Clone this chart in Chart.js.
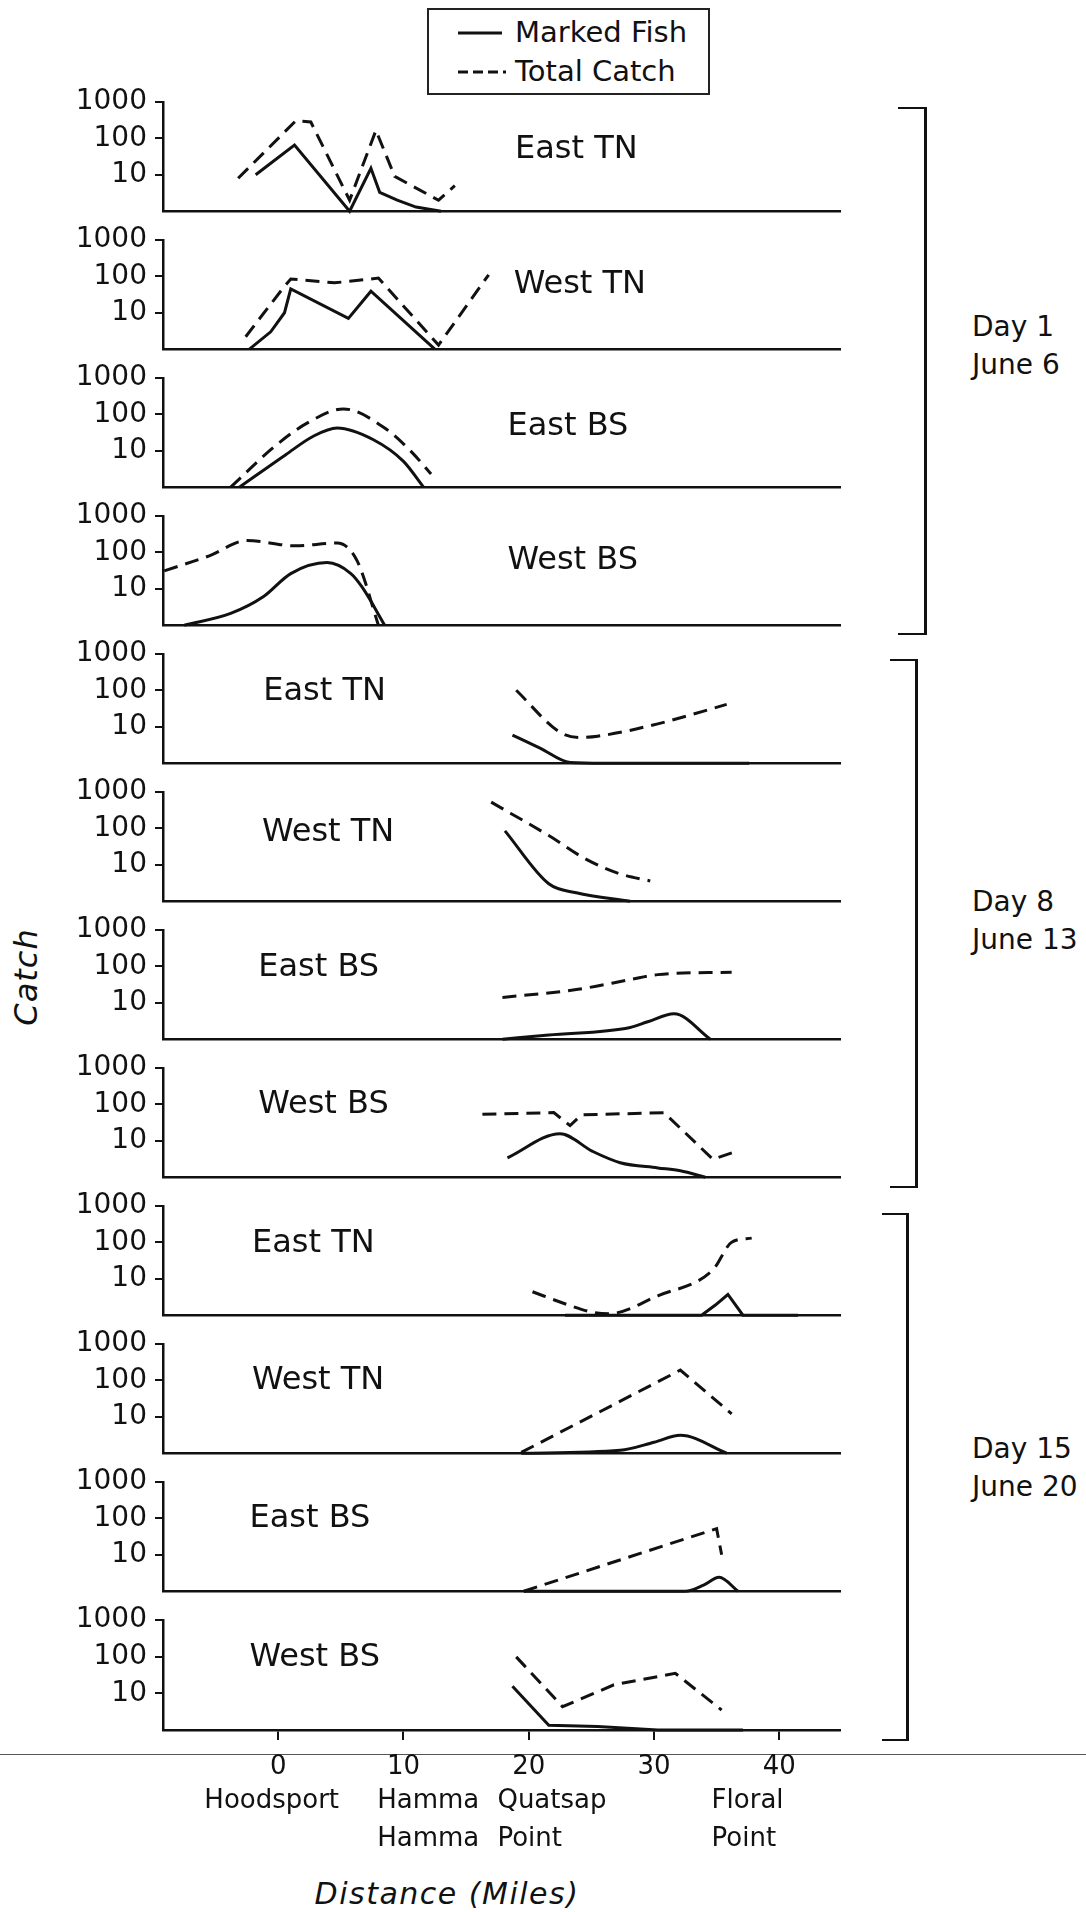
<!DOCTYPE html>
<html>
<head>
<meta charset="utf-8">
<title>Catch by distance</title>
<script src="https://cdn.jsdelivr.net/npm/chart.js@4.4.1/dist/chart.umd.min.js"></script>
<style>
    html, body { margin: 0; padding: 0; background: #fff; }
    body {
        width: 1086px; height: 1912px; position: relative; overflow: hidden;
        font-family: "DejaVu Sans", "Noto Sans", sans-serif; color: #111;
    }
    .panel { position: absolute; left: 0; }
    .legend {
        position: absolute; left: 427px; top: 8px; width: 279px; height: 83px;
        border: 2px solid #222;
    }
    .legend-row { position: absolute; left: 0; height: 30px; width: 100%; }
    .legend-row svg { position: absolute; left: 29px; top: 13px; }
    .legend-row span { position: absolute; left: 86px; top: 0; font-size: 29px; line-height: 30px; white-space: nowrap; }
    .bracket {
        position: absolute; border-top: 2.5px solid #111; border-right: 3px solid #111;
        border-bottom: 2.5px solid #111;
    }
    .day { position: absolute; left: 972px; font-size: 28px; line-height: 32px; white-space: nowrap; }
    .y-title {
        position: absolute; left: 26px; top: 977px; font-size: 32px; font-style: italic;
        transform: translate(-50%, -50%) rotate(-90deg); white-space: nowrap; letter-spacing: 1px;
    }
    .x-title {
        position: absolute; left: 447px; top: 1893px; font-size: 30px; font-style: italic;
        transform: translate(-50%, -50%); white-space: nowrap; letter-spacing: 1.5px;
    }
    .rule { position: absolute; left: 0; top: 1754px; width: 1086px; height: 1px; background: #555; }
</style>
</head>
<body>

<div class="legend">
    <div class="legend-row" style="top: 7px;">
        <svg width="46" height="6"><line x1="0" y1="3" x2="44" y2="3" stroke="#111" stroke-width="3"/></svg>
        <span>Marked Fish</span>
    </div>
    <div class="legend-row" style="top: 46px;">
        <svg width="48" height="6"><line x1="0" y1="3" x2="48" y2="3" stroke="#111" stroke-width="3" stroke-dasharray="10 5"/></svg>
        <span>Total Catch</span>
    </div>
</div>

<div class="bracket" style="left: 898px; top: 107px; width: 26px; height: 524px;"></div>
<div class="bracket" style="left: 890px; top: 659px; width: 25px; height: 525px;"></div>
<div class="bracket" style="left: 882px; top: 1213px; width: 24px; height: 524px;"></div>

<div class="y-title">Catch</div>
<div class="x-title">Distance (Miles)</div>
<div class="rule"></div>

<script>
// Panel names, top to bottom
const panelLabels = ['East TN', 'West TN', 'East BS', 'West BS',
                     'East TN', 'West TN', 'East BS', 'West BS',
                     'East TN', 'West TN', 'East BS', 'West BS'];

// Where each panel name sits, in miles and catch
const panelLabelMiles = [18.9, 18.8, 18.3, 18.3, -1.2, -1.3, -1.6, -1.6, -2.1, -2.1, -2.3, -2.3];
const panelLabelValues = [49, 60, 46, 59, 92, 78, 92, 100, 89, 95, 100, 93];

// Bracket captions
const dayLabels = [['Day 1', 'June 6'], ['Day 8', 'June 13'], ['Day 15', 'June 20']];

// Axis ticks
const xTickValues = [0, 10, 20, 30, 40];
const yTickValues = [10, 100, 1000];

// Place names under the distance axis (left edge, miles)
const placeNames = [['Hoodsport'], ['Hamma', 'Hamma'], ['Quatsap', 'Point'], ['Floral', 'Point']];
const placeMiles = [-5.9, 7.9, 17.5, 34.6];

// Day 1 - June 6  [miles, catch]
const d1EastTnMarked = [[-1.8, 10], [1.3, 65], [5.7, 1], [7.4, 15], [8.1, 3.3], [9.5, 2], [11, 1.3], [13, 1]];
const d1EastTnTotal = [[-3.2, 8], [1.4, 300], [2.6, 280], [5.7, 2], [7.8, 165], [9.3, 9], [12.8, 2], [14.1, 5]];
const d1WestTnMarked = [[-2.3, 1], [-0.6, 3], [0.5, 10], [1.0, 45], [5.6, 7], [7.4, 39], [12.5, 1]];
const d1WestTnTotal = [[-2.6, 2.2], [0.4, 48], [1.0, 84], [4.5, 66], [8.0, 89], [12.8, 1.3], [16.8, 110]];
const d1EastBsMarked = [[-3.1, 1], [0.6, 7.8], [2.8, 25], [4.7, 42], [7.6, 20], [10.0, 5.1], [11.6, 1]];
const d1EastBsTotal = [[-3.8, 1], [-0.3, 13], [2.3, 57], [5.2, 140], [8.5, 42], [10.6, 9.6], [12.2, 2.3]];
const d1WestBsMarked = [[-7.5, 1], [-3.8, 2.1], [-1.2, 6], [1.0, 26], [3.9, 52], [5.8, 26], [6.7, 11], [8.5, 1]];
const d1WestBsTotal = [[-9.1, 31], [-5.5, 80], [-2.5, 210], [1.4, 150], [4.7, 180], [6.3, 58], [8.0, 1]];

// Day 8 - June 13
const d8EastTnMarked = [[18.7, 5.9], [20.9, 2.6], [23.3, 1.05], [26, 1], [37.6, 1]];
const d8EastTnTotal = [[19.0, 100], [22.5, 7], [24.0, 5.1], [25.5, 5.5], [30.3, 12], [35.8, 41]];
const d8WestTnMarked = [[18.1, 85], [21.6, 3], [23.8, 1.7], [28.1, 1]];
const d8WestTnTotal = [[17.0, 520], [21.6, 63], [24.6, 14], [27.3, 5.6], [29.7, 3.6]];
const d8EastBsMarked = [[17.9, 1], [21.6, 1.3], [28.1, 2.1], [29.5, 3], [31.6, 5], [34.5, 1]];
const d8EastBsTotal = [[17.9, 14], [23.8, 23], [28.1, 43], [30.3, 59], [36.2, 69]];
const d8WestBsMarked = [[18.3, 3.4], [22.5, 15.6], [25.1, 5.1], [27.3, 2.5], [30.3, 1.8], [32.1, 1.5], [34.1, 1]];
const d8WestBsTotal = [[16.3, 53], [22.0, 59], [23.3, 26], [24.2, 51], [30.8, 59], [34.7, 3.1], [36.7, 5.3]];

// Day 15 - June 20
const d15EastTnMarked = [[22.9, 1], [33.8, 1], [34.9, 1.9], [35.9, 3.7], [37.1, 1], [41.5, 1]];
const d15EastTnTotal = [[20.3, 4.4], [23, 2], [25.1, 1.2], [26.4, 1.1], [30.3, 3.4], [34.7, 17.5], [36.2, 100], [37.8, 130]];
const d15WestTnMarked = [[19.4, 1], [27.3, 1.2], [30, 2], [32.1, 3.1], [35.8, 1]];
const d15WestTnTotal = [[19.4, 1.05], [32.1, 190], [36.2, 12]];
const d15EastBsMarked = [[19.6, 1], [32.5, 1], [34, 1.5], [35.2, 2.4], [36.7, 1]];
const d15EastBsTotal = [[19.6, 1], [35.0, 52], [35.4, 10]];
const d15WestBsMarked = [[18.7, 15.6], [21.6, 1.35], [25.5, 1.25], [30.3, 1], [37.1, 1]];
const d15WestBsTotal = [[19.0, 98], [22.7, 4.3], [26.8, 17], [31.7, 35], [35.4, 3.5]];

const panelMarked = [d1EastTnMarked, d1WestTnMarked, d1EastBsMarked, d1WestBsMarked,
                     d8EastTnMarked, d8WestTnMarked, d8EastBsMarked, d8WestBsMarked,
                     d15EastTnMarked, d15WestTnMarked, d15EastBsMarked, d15WestBsMarked];
const panelTotal = [d1EastTnTotal, d1WestTnTotal, d1EastBsTotal, d1WestBsTotal,
                    d8EastTnTotal, d8WestTnTotal, d8EastBsTotal, d8WestBsTotal,
                    d15EastTnTotal, d15WestTnTotal, d15EastBsTotal, d15WestBsTotal];

// Which curves are drawn smooth: [marked, total]
const smoothCurves = [[false, false], [false, false], [true, true], [true, true],
                      [true, true], [true, true], [true, true], [true, false],
                      [false, true], [true, false], [true, false], [false, false]];

// Layout
const FONT = '"DejaVu Sans", "Noto Sans", sans-serif';
const INK = '#111';
const PANEL_TOP = 101;
const PANEL_STEP = 138;
const PANEL_H = 111;
const PAD_TOP = 24;
const AXIS_LEFT = 163;
const AXIS_RIGHT = 840;
const CANVAS_W = 880;
const X_MIN = -9.2;
const X_MAX = 44.85;

// Bracket captions
const dayTops = [311, 886, 1433];
dayLabels.forEach((lines, i) => {
    lines.forEach((text, j) => {
        const el = document.createElement('div');
        el.className = 'day';
        el.style.top = (dayTops[i] + j * 38) + 'px';
        el.textContent = text;
        document.body.appendChild(el);
    });
});

function lineDataset(points, dashed, smooth) {
    return {
        data: points,
        borderColor: INK,
        borderWidth: 3,
        borderDash: dashed ? [14, 8] : [],
        pointRadius: 0,
        fill: false,
        clip: false,
        tension: smooth ? 0.4 : 0,
        cubicInterpolationMode: smooth ? 'monotone' : 'default'
    };
}

// Panel name text inside the plot
function panelTextPlugin(index) {
    return {
        id: 'panelText' + index,
        afterDatasetsDraw(chart) {
            const { ctx, scales } = chart;
            ctx.save();
            ctx.fillStyle = INK;
            ctx.font = '32px ' + FONT;
            ctx.textAlign = 'left';
            ctx.textBaseline = 'middle';
            ctx.fillText(panelLabels[index],
                scales.x.getPixelForValue(panelLabelMiles[index]),
                scales.y.getPixelForValue(panelLabelValues[index]));
            ctx.restore();
        }
    };
}

// Place names under the bottom axis
const placePlugin = {
    id: 'placeNames',
    afterDraw(chart) {
        const { ctx, scales, chartArea } = chart;
        ctx.save();
        ctx.fillStyle = INK;
        ctx.font = '26px ' + FONT;
        ctx.textAlign = 'left';
        ctx.textBaseline = 'middle';
        placeNames.forEach((lines, i) => {
            const x = scales.x.getPixelForValue(placeMiles[i]);
            lines.forEach((text, j) => {
                ctx.fillText(text, x, chartArea.bottom + 71 + j * 38);
            });
        });
        ctx.restore();
    }
};

panelLabels.forEach((name, i) => {
    const isLast = i === panelLabels.length - 1;
    const top = PANEL_TOP + i * PANEL_STEP;
    // the x axis box is kept tall enough to hold the bottom tick-label overflow of the y axis
    const xAxisH = isLast ? 44 : 22;
    const padBottom = isLast ? 100 : 2;
    const height = PAD_TOP + PANEL_H + xAxisH + padBottom;

    const holder = document.createElement('div');
    holder.className = 'panel';
    holder.style.top = (top - PAD_TOP) + 'px';
    const canvas = document.createElement('canvas');
    canvas.width = CANVAS_W;
    canvas.height = height;
    holder.appendChild(canvas);
    document.body.appendChild(holder);

    const plugins = [panelTextPlugin(i)];
    if (isLast) plugins.push(placePlugin);

    new Chart(canvas, {
        type: 'line',
        data: {
            datasets: [
                lineDataset(panelMarked[i], false, smoothCurves[i][0]),
                lineDataset(panelTotal[i], true, smoothCurves[i][1])
            ]
        },
        plugins: plugins,
        options: {
            responsive: false,
            animation: false,
            layout: { padding: { top: PAD_TOP, bottom: padBottom, left: 0, right: CANVAS_W - AXIS_RIGHT } },
            plugins: { legend: { display: false }, tooltip: { enabled: false } },
            scales: {
                x: {
                    type: 'linear',
                    min: X_MIN,
                    max: X_MAX,
                    afterFit: (scale) => { scale.height = xAxisH; },
                    afterBuildTicks: (scale) => { scale.ticks = xTickValues.map(v => ({ value: v })); },
                    border: { display: true, color: INK, width: 2.5 },
                    grid: { display: isLast, drawOnChartArea: false, drawTicks: true, tickLength: 10, color: INK, lineWidth: 2 },
                    ticks: { display: isLast, font: { family: FONT, size: 26 }, color: INK, padding: 12, maxRotation: 0, autoSkip: false }
                },
                y: {
                    type: 'logarithmic',
                    min: 1,
                    max: 1000,
                    afterFit: (scale) => { scale.width = AXIS_LEFT; },
                    afterBuildTicks: (scale) => { scale.ticks = yTickValues.map(v => ({ value: v })); },
                    border: { display: true, color: INK, width: 2.5 },
                    grid: { drawOnChartArea: false, drawTicks: true, tickLength: 8, color: INK, lineWidth: 2 },
                    ticks: { font: { family: FONT, size: 28 }, color: INK, padding: 8, callback: (v) => String(v) }
                }
            }
        }
    });
});
</script>
</body>
</html>
